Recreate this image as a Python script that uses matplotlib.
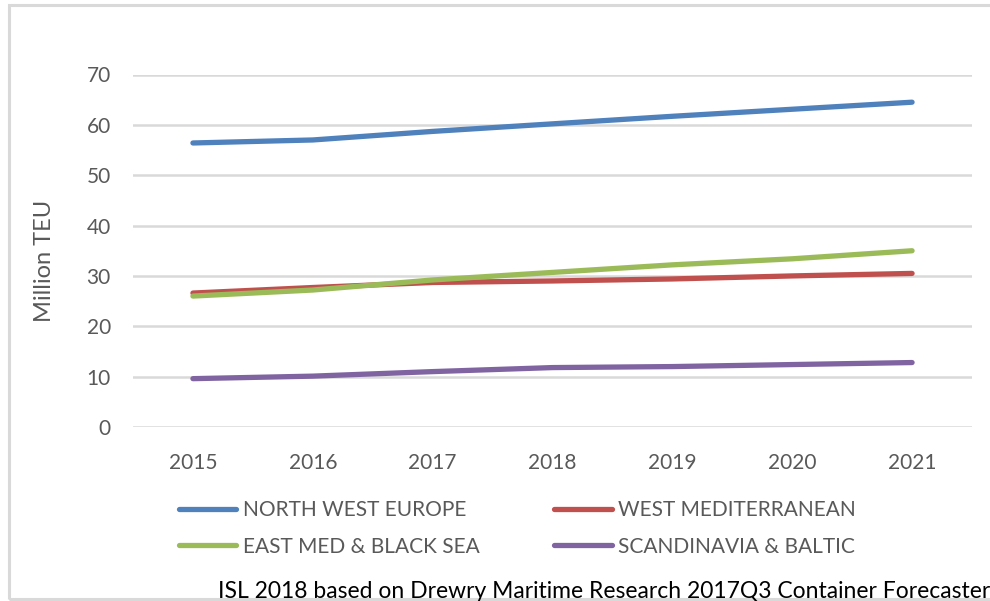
import numpy as np
import matplotlib as mpl
import matplotlib.pyplot as plt
from matplotlib.patches import Rectangle

years = ['2015', '2016', '2017', '2018', '2019', '2020', '2021']
nwe = [56.4, 57.0, 58.7, 60.2, 61.7, 63.1, 64.5]
west_med = [26.6, 27.7, 28.7, 29.0, 29.4, 30.0, 30.5]
east_med = [26.0, 27.2, 29.2, 30.7, 32.2, 33.4, 35.0]
scand = [9.6, 10.1, 11.0, 11.8, 12.0, 12.4, 12.8]

names = ['NORTH WEST EUROPE', 'WEST MEDITERRANEAN',
         'EAST MED & BLACK SEA', 'SCANDINAVIA & BALTIC']
colors = ['#4f81bd', '#c0504d', '#9bbb59', '#8064a2']

plt.rcParams['font.family'] = ['Lato', 'DejaVu Sans']
grey = '#595959'

fig = plt.figure(figsize=(9.9, 6.01), dpi=100)
fig.patches.append(Rectangle((9/990, 2/601), 1.2, 594/601, transform=fig.transFigure,
                             fill=False, edgecolor='#d9d9d9', linewidth=2.2))

ax = fig.add_axes([133/990, 1 - 427/601, 839/990, 352.5/601])
x = np.arange(len(years))
for vals, name, c in zip([nwe, west_med, east_med, scand], names, colors):
    ax.plot(x, vals, color=c, lw=3.8, solid_capstyle='round', label=name, zorder=3)

ax.set_xlim(-0.5, len(years) - 0.5)
ax.set_ylim(0, 70)
ax.set_yticks(range(0, 71, 10))
ax.set_xticks(x)
ax.set_xticklabels(years)
ax.grid(axis='y', color='#d9d9d9', lw=1.8)
ax.set_axisbelow(True)
for s in ax.spines.values():
    s.set_visible(False)
ax.tick_params(length=0, colors=grey, labelsize=15)
ax.tick_params(axis='y', pad=16)
ax.tick_params(axis='x', pad=19)
ax.set_ylabel('Million TEU', color=grey, fontsize=17, labelpad=23)
ax.yaxis.label.set_y(0.47)

# legend in two columns, ordered row by row
handles, labels = ax.get_legend_handles_labels()
order = [0, 2, 1, 3]
fig.legend([handles[i] for i in order], [labels[i] for i in order], ncol=2,
           loc='upper left', bbox_to_anchor=(179/990, 1 - 500/601), frameon=False,
           fontsize=15, labelcolor=grey, handlelength=2.75, handletextpad=0.3,
           columnspacing=3.6, labelspacing=0.8, borderaxespad=0, borderpad=0)

fig.text(218/990, 1 - 591/601, 'ISL 2018 based on Drewry Maritime Research 2017Q3 Container Forecaster',
         fontsize=16.5, color='black', va='center', ha='left')

plt.savefig('out.png', dpi=100)
